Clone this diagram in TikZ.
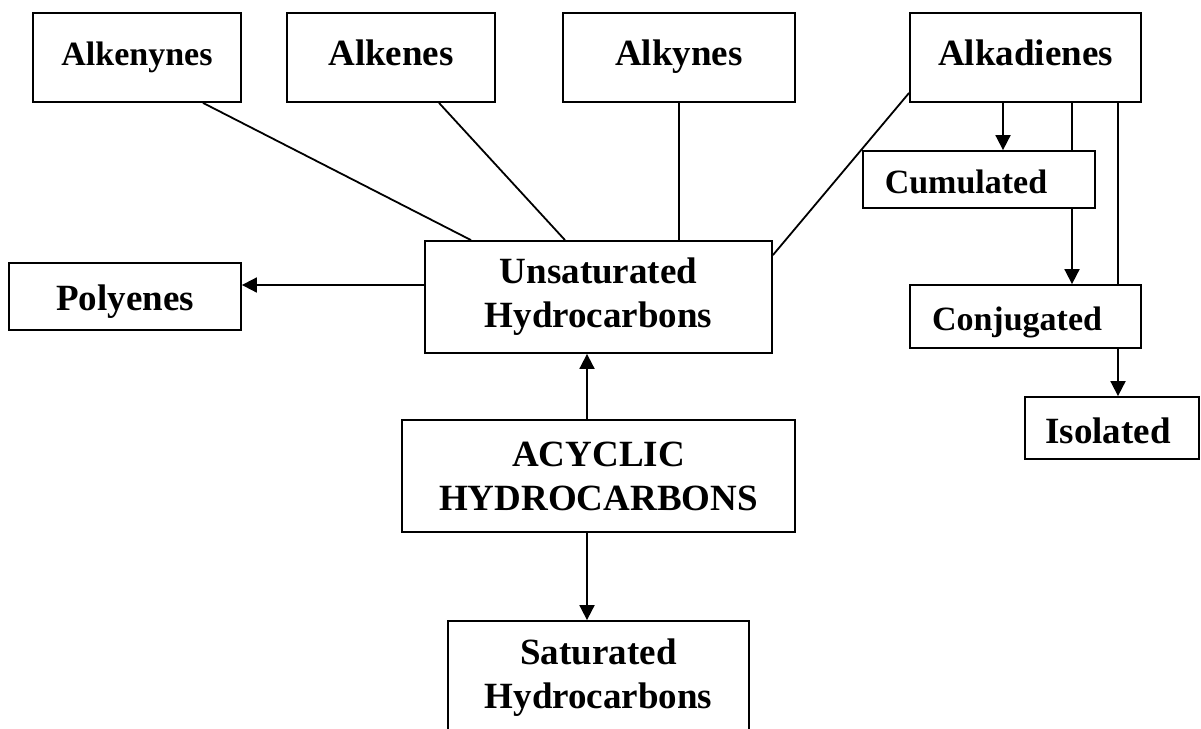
\documentclass[tikz,border=0pt]{standalone}
\usepackage{fontspec}
\setmainfont{Liberation Serif}
\usetikzlibrary{arrows.meta}
\tikzset{
  box/.style={draw, rectangle, line width=1.8pt, inner sep=0pt, align=center,
    font=\bfseries\fontsize{37}{44}\selectfont},
  smallbox/.style={box, font=\bfseries\fontsize{34}{40}\selectfont},
  topline/.style={text height=26pt, text depth=10pt},
  midline/.style={text height=30pt, text depth=3pt},
  lowline/.style={text height=32pt, text depth=2pt},
  link/.style={line width=1.8pt},
  arr/.style={line width=1.8pt, -{Triangle[length=15pt,width=15pt]}}
}
\begin{document}
\begin{tikzpicture}[x=1pt,y=-1pt]
\useasboundingbox (0,0) rectangle (1201,728);
% top row
\node[smallbox, topline, minimum width=208pt, minimum height=89pt] (alkenynes) at (137,57.5) {Alkenynes};
\node[box, topline, minimum width=208pt, minimum height=89pt] (alkenes) at (391,57.5) {Alkenes};
\node[box, topline, minimum width=232pt, minimum height=89pt] (alkynes) at (679,57.5) {Alkynes};
\node[box, topline, minimum width=231pt, minimum height=89pt] (alkadienes) at (1025.5,57.5) {Alkadienes};
% middle
\node[box, midline, minimum width=232pt, minimum height=67pt] (polyenes) at (125,296.5) {Polyenes};
\node[box, minimum width=347pt, minimum height=112pt] (unsat) at (598.5,297) {Unsaturated\\Hydrocarbons};
\node[box, minimum width=393pt, minimum height=112pt] (acyclic) at (598.5,476) {ACYCLIC\\HYDROCARBONS};
\node[box, minimum width=301pt, minimum height=114pt] (sat) at (598.5,678) {Saturated\\Hydrocarbons};
% right column
\node[smallbox, midline, minimum width=232pt, minimum height=57pt] (cum) at (979,179.5) {\hspace*{-26pt}Cumulated};
\node[smallbox, midline, minimum width=231pt, minimum height=63pt] (conj) at (1025.5,316.5) {\hspace*{-17pt}Conjugated};
\node[box, lowline, minimum width=174pt, minimum height=62pt] (iso) at (1112,428) {\hspace*{-8pt}Isolated};
% connectors to unsaturated
\draw[link] ([xshift=66pt]alkenynes.south) -- ([xshift=-127.5pt]unsat.north);
\draw[link] ([xshift=48pt]alkenes.south) -- ([xshift=-33.5pt]unsat.north);
\draw[link] (alkynes.south) -- (alkynes.south |- unsat.north);
\draw[link] ([yshift=10pt]alkadienes.south west) -- ([yshift=-15pt]unsat.north east);
\path ([yshift=12pt]unsat.west) coordinate (pa);
\draw[arr] (pa) -- (pa -| polyenes.east);
\path ([xshift=-11.5pt]acyclic.north) coordinate (pb);
\draw[arr] (pb) -- (pb |- unsat.south);
\path ([xshift=-11.5pt]acyclic.south) coordinate (pc);
\draw[arr] (pc) -- (pc |- sat.north);
% alkadienes branches
\coordinate (xa) at (1003,0);
\coordinate (xb) at (1072,0);
\coordinate (xc) at (1118,0);
\draw[arr] (xa |- alkadienes.south) -- (xa |- cum.north);
\draw[link] (xb |- alkadienes.south) -- (xb |- cum.north);
\draw[arr] (xb |- cum.south) -- (xb |- conj.north);
\draw[link] (xc |- alkadienes.south) -- (xc |- conj.north);
\draw[arr] (xc |- conj.south) -- (xc |- iso.north);
\end{tikzpicture}
\end{document}
